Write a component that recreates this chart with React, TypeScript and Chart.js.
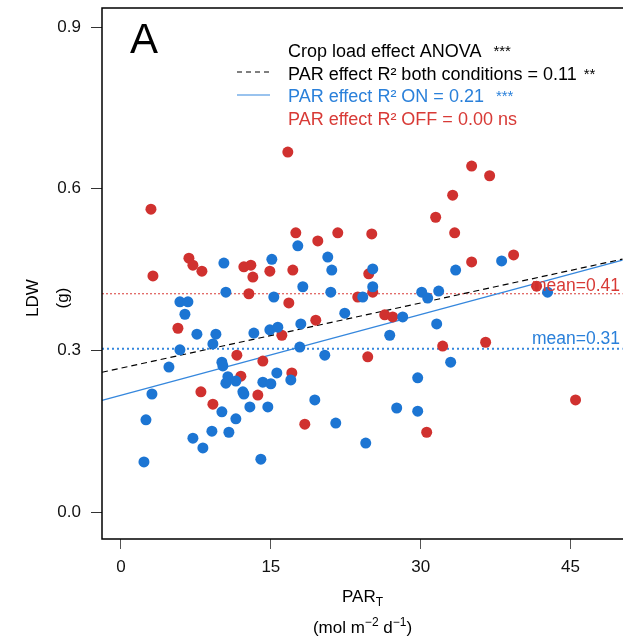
import React, { useEffect, useRef } from 'react';
import { Chart, registerables } from 'chart.js';

Chart.register(...registerables);

// ---- data ----
const offX = [3.0, 3.2, 6.8, 7.2, 8.1, 12.3, 13.0, 13.2, 14.9, 16.7, 17.5, 19.7, 21.7, 25.1, 17.2, 24.8, 23.7, 25.2, 33.2, 31.5, 33.4, 35.1, 36.9, 35.1, 39.3, 41.6, 12.8, 16.8, 5.7, 11.6, 12.0, 14.2, 16.1, 8.0, 9.2, 13.7, 17.1, 18.4, 19.5, 26.4, 27.2, 24.7, 32.2, 36.5, 30.6, 45.5];
const offY = [0.562, 0.438, 0.471, 0.458, 0.447, 0.455, 0.458, 0.436, 0.447, 0.668, 0.518, 0.503, 0.518, 0.516, 0.449, 0.442, 0.399, 0.408, 0.588, 0.547, 0.518, 0.642, 0.624, 0.464, 0.477, 0.419, 0.405, 0.388, 0.341, 0.291, 0.252, 0.280, 0.328, 0.223, 0.200, 0.217, 0.258, 0.163, 0.356, 0.366, 0.362, 0.288, 0.308, 0.315, 0.148, 0.208];

const onX = [10.3, 15.1, 17.7, 20.7, 21.1, 18.2, 21.0, 10.5, 15.3, 5.9, 6.7, 6.4, 7.6, 9.5, 9.2, 5.9, 4.8, 3.1, 2.5, 2.3, 7.2, 8.2, 9.1, 10.8, 10.1, 11.5, 10.1, 10.2, 10.7, 10.5, 11.5, 12.2, 12.3, 12.9, 14.7, 14.2, 15.0, 15.6, 13.3, 14.9, 15.7, 17.9, 17.0, 19.4, 21.5, 18.0, 20.4, 22.4, 14.0, 25.2, 25.2, 24.2, 33.5, 30.1, 30.7, 31.8, 28.2, 26.9, 31.6, 33.0, 29.7, 27.6, 29.7, 24.5, 38.1, 42.7];
const onY = [0.462, 0.469, 0.494, 0.473, 0.449, 0.418, 0.408, 0.408, 0.399, 0.390, 0.390, 0.367, 0.330, 0.330, 0.312, 0.301, 0.269, 0.219, 0.171, 0.093, 0.137, 0.119, 0.150, 0.148, 0.186, 0.173, 0.278, 0.271, 0.251, 0.239, 0.243, 0.223, 0.219, 0.195, 0.195, 0.241, 0.238, 0.258, 0.332, 0.338, 0.343, 0.306, 0.245, 0.208, 0.165, 0.349, 0.291, 0.369, 0.098, 0.451, 0.418, 0.399, 0.449, 0.408, 0.397, 0.410, 0.362, 0.328, 0.349, 0.278, 0.249, 0.193, 0.187, 0.128, 0.466, 0.408];

const xTicks = [0, 15, 30, 45];
const yTicks = [0.0, 0.3, 0.6, 0.9];
const xRange = [-1.9, 49.7];
const lineXEnd = 50.2;
const yRange = [-0.0501, 0.9353];

const meanOff = 0.405;
const meanOn = 0.303;
const regBoth = [0.267, 0.00403]; // intercept, slope
const regOn = [0.2165, 0.005];

const legendTexts = [
  { text: 'Crop load effect ANOVA', stars: '***' },
  { text: 'PAR effect R\u00B2 both conditions = 0.11', stars: '**' },
  { text: 'PAR effect R\u00B2 ON = 0.21', stars: '***' },
  { text: 'PAR effect R\u00B2 OFF = 0.00 ns', stars: '' },
];

const RED = '#D0312F';
const BLUE = '#1C75D3';
const BLUE_LINE = '#3587DD';
const RED_TXT = '#D83A36';
const BLUE_TXT = '#2A80DA';
const FONT = '"Liberation Sans", Arial, sans-serif';

const overlay = {
  id: 'overlay',
  afterDatasetsDraw(chart: any) {
    const { ctx } = chart;
    const ys = chart.scales.y;
    ctx.save();
    ctx.font = `17.5px ${FONT}`;
    ctx.textAlign = 'right';
    ctx.textBaseline = 'alphabetic';
    ctx.fillStyle = RED_TXT;
    ctx.fillText('mean=0.41', 620, ys.getPixelForValue(meanOff) - 3);
    ctx.fillStyle = BLUE_TXT;
    ctx.fillText('mean=0.31', 620, ys.getPixelForValue(meanOn) - 5);
    ctx.restore();
  },
  afterDraw(chart: any) {
    const { ctx, chartArea: ca } = chart;
    ctx.save();
    // box (open on the right, as in the cropped original)
    ctx.strokeStyle = '#000';
    ctx.lineWidth = 1.5;
    ctx.beginPath();
    ctx.moveTo(chart.width + 2, ca.top);
    ctx.lineTo(ca.left, ca.top);
    ctx.lineTo(ca.left, ca.bottom);
    ctx.lineTo(chart.width + 2, ca.bottom);
    ctx.stroke();

    // panel letter
    ctx.fillStyle = '#000';
    ctx.font = `42px ${FONT}`;
    ctx.textAlign = 'left';
    ctx.textBaseline = 'alphabetic';
    ctx.fillText('A', 130, 53);

    // legend
    const colors = ['#000', '#000', BLUE_TXT, RED_TXT];
    const baselines = [57, 79.5, 102, 124.5];
    legendTexts.forEach((l, i) => {
      ctx.font = `18px ${FONT}`;
      ctx.fillStyle = colors[i];
      ctx.fillText(l.text, 288, baselines[i]);
      if (l.stars) {
        const w = ctx.measureText(l.text).width;
        ctx.font = `15px ${FONT}`;
        ctx.fillText(l.stars, 288 + w + (i === 1 ? 7 : 12), baselines[i] - 1);
      }
    });
    // legend line samples
    ctx.lineWidth = 1.2;
    ctx.strokeStyle = '#000';
    ctx.setLineDash([5, 4]);
    ctx.beginPath();
    ctx.moveTo(237, 72);
    ctx.lineTo(270, 72);
    ctx.stroke();
    ctx.setLineDash([]);
    ctx.strokeStyle = BLUE_LINE;
    ctx.beginPath();
    ctx.moveTo(237, 95);
    ctx.lineTo(270, 95);
    ctx.stroke();

    // x title
    const cx = (ca.left + chart.width) / 2;
    ctx.fillStyle = '#000';
    ctx.font = `17px ${FONT}`;
    const wPar = ctx.measureText('PAR').width;
    ctx.font = `12px ${FONT}`;
    const wT = ctx.measureText('T').width;
    const x0 = cx - (wPar + wT) / 2;
    ctx.font = `17px ${FONT}`;
    ctx.fillText('PAR', x0, 602);
    ctx.font = `12px ${FONT}`;
    ctx.fillText('T', x0 + wPar, 606);

    const parts = [
      { t: '(mol m', sup: false },
      { t: '\u22122', sup: true },
      { t: ' d', sup: false },
      { t: '\u22121', sup: true },
      { t: ')', sup: false },
    ];
    let total = 0;
    parts.forEach((p) => {
      ctx.font = p.sup ? `12px ${FONT}` : `17px ${FONT}`;
      total += ctx.measureText(p.t).width;
    });
    let px = cx - total / 2;
    parts.forEach((p) => {
      ctx.font = p.sup ? `12px ${FONT}` : `17px ${FONT}`;
      ctx.fillText(p.t, px, p.sup ? 626 : 633);
      px += ctx.measureText(p.t).width;
    });

    // y title
    ctx.font = `17px ${FONT}`;
    ctx.textAlign = 'center';
    ctx.textBaseline = 'middle';
    ctx.save();
    ctx.translate(33, 298);
    ctx.rotate(-Math.PI / 2);
    ctx.fillText('LDW', 0, 0);
    ctx.restore();
    ctx.save();
    ctx.translate(63, 298);
    ctx.rotate(-Math.PI / 2);
    ctx.fillText('(g)', 0, 0);
    ctx.restore();

    ctx.restore();
  },
};

export default function App() {
  const ref = useRef<HTMLCanvasElement | null>(null);

  useEffect(() => {
    if (!ref.current) return;
    const line = (a: number, b: number) => [
      { x: xRange[0], y: a + b * xRange[0] },
      { x: lineXEnd, y: a + b * lineXEnd },
    ];
    const hline = (v: number) => [
      { x: xRange[0], y: v },
      { x: lineXEnd, y: v },
    ];
    const chart = new Chart(ref.current, {
      type: 'scatter',
      data: {
        datasets: [
          {
            label: 'ON',
            data: onX.map((x, i) => ({ x, y: onY[i] })),
            backgroundColor: BLUE,
            borderWidth: 0,
            pointRadius: 5.5,
            order: 1,
          },
          {
            label: 'OFF',
            data: offX.map((x, i) => ({ x, y: offY[i] })),
            backgroundColor: RED,
            borderWidth: 0,
            pointRadius: 5.5,
            order: 2,
          },
          {
            type: 'line',
            label: 'reg both',
            data: line(regBoth[0], regBoth[1]),
            borderColor: '#000',
            borderWidth: 1.2,
            borderDash: [6, 4],
            pointRadius: 0,
            clip: false,
            order: 3,
          },
          {
            type: 'line',
            label: 'reg ON',
            data: line(regOn[0], regOn[1]),
            borderColor: BLUE_LINE,
            borderWidth: 1.3,
            pointRadius: 0,
            clip: false,
            order: 4,
          },
          {
            type: 'line',
            label: 'mean OFF',
            data: hline(meanOff),
            borderColor: RED_TXT,
            borderWidth: 1,
            borderDash: [2, 2],
            pointRadius: 0,
            clip: false,
            order: 5,
          },
          {
            type: 'line',
            label: 'mean ON',
            data: hline(meanOn),
            borderColor: BLUE_LINE,
            borderWidth: 2,
            borderDash: [2, 3],
            pointRadius: 0,
            clip: false,
            order: 6,
          },
        ] as any,
      },
      options: {
        animation: false,
        responsive: false,
        devicePixelRatio: 1,
        layout: { padding: { top: 8, left: 0, right: 0, bottom: 0 } },
        plugins: { legend: { display: false }, tooltip: { enabled: false } },
        scales: {
          x: {
            type: 'linear',
            min: xRange[0],
            max: xRange[1],
            afterBuildTicks: (s: any) => {
              s.ticks = xTicks.map((v) => ({ value: v }));
            },
            afterFit: (s: any) => {
              s.height = 102;
              s.paddingLeft = 0;
              s.paddingRight = 0;
            },
            grid: { display: true, drawOnChartArea: false, drawTicks: true, tickLength: 10, color: '#555', lineWidth: 1 },
            border: { display: false },
            ticks: {
              color: '#111',
              padding: 8,
              font: { family: FONT, size: 17 },
              callback: (v: any) => String(v),
              maxRotation: 0,
            },
          },
          y: {
            type: 'linear',
            min: yRange[0],
            max: yRange[1],
            afterBuildTicks: (s: any) => {
              s.ticks = yTicks.map((v) => ({ value: v }));
            },
            afterFit: (s: any) => {
              s.width = 102;
              s.paddingTop = 0;
              s.paddingBottom = 0;
            },
            grid: { display: true, drawOnChartArea: false, drawTicks: true, tickLength: 11, color: '#333', lineWidth: 1 },
            border: { display: false },
            ticks: {
              color: '#111',
              padding: 10,
              font: { family: FONT, size: 17 },
              callback: (v: any) => Number(v).toFixed(1),
            },
          },
        },
      },
      plugins: [overlay],
    });
    return () => chart.destroy();
  }, []);

  return (
    <div style={{ position: 'fixed', left: 0, top: 0, width: 623, height: 641, background: '#fff' }}>
      <canvas ref={ref} width={623} height={641} />
    </div>
  );
}
